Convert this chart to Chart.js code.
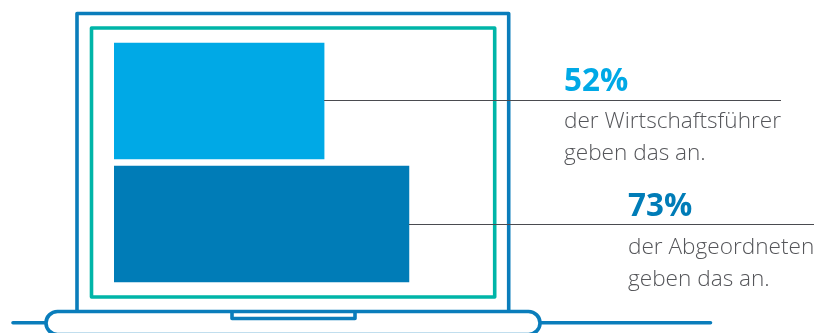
<!DOCTYPE html>
<html lang="de">
<head>
<meta charset="utf-8">
<title>Wirtschaftsführer und Abgeordnete</title>
<script src="https://cdn.jsdelivr.net/npm/chart.js@4"></script>
<style>
  html, body { margin: 0; padding: 0; background: #fff; overflow: hidden; }
  canvas { display: block; }
</style>
</head>
<body>
<canvas id="laptopChart" width="823" height="333"></canvas>
<script>
const categories = ["Wirtschaftsführer", "Abgeordnete"];
const percentValues = [52, 73];
const barColors = ["#00a9e6", "#007cb7"];
const captionLines = [
  ["der Wirtschaftsführer", "geben das an."],
  ["der Abgeordneten", "geben das an."]
];

// caption block layout per bar: left edge, rule end, baseline offsets from the bar centre
const captionX = [564, 628];
const ruleEndX = [781, 814];
const percentOffset = [-10, -8.5];
const captionOffset = [26.5, 30];

const FRAME_BLUE = "#0a7dbb";
const TEAL = "#00b5a8";
const TEXT_GREY = "#55565a";

// the laptop outline behind the bars
const laptopFrame = {
  id: "laptopFrame",
  beforeDatasetsDraw(chart) {
    const ctx = chart.ctx;
    ctx.save();
    ctx.lineJoin = "round";

    // lid
    ctx.strokeStyle = FRAME_BLUE;
    ctx.lineWidth = 3.6;
    ctx.beginPath();
    ctx.moveTo(77, 311.5);
    ctx.lineTo(77, 13.5);
    ctx.lineTo(508.7, 13.5);
    ctx.lineTo(508.7, 311.5);
    ctx.stroke();

    // screen
    ctx.strokeStyle = TEAL;
    ctx.strokeRect(91.5, 28, 403.2, 269);

    // base with notch
    ctx.strokeStyle = FRAME_BLUE;
    ctx.beginPath();
    ctx.roundRect(46, 311.5, 494, 23, 11.5);
    ctx.stroke();
    ctx.beginPath();
    ctx.moveTo(232, 311.5);
    ctx.lineTo(232, 318.5);
    ctx.lineTo(355, 318.5);
    ctx.lineTo(355, 311.5);
    ctx.stroke();

    // table line either side of the base
    ctx.lineCap = "round";
    ctx.beginPath();
    ctx.moveTo(13, 322.7);
    ctx.lineTo(45, 322.7);
    ctx.moveTo(541, 322.7);
    ctx.lineTo(710.5, 322.7);
    ctx.stroke();

    ctx.restore();
  }
};

// rule from each bar end, with the percentage above and the caption below
const barCaptions = {
  id: "barCaptions",
  afterDatasetsDraw(chart) {
    const ctx = chart.ctx;
    const bars = chart.getDatasetMeta(0).data;
    ctx.save();
    bars.forEach((bar, i) => {
      const ruleY = Math.floor(bar.y) + (i === 0 ? -0.5 : 0.5);
      ctx.strokeStyle = "#4a4b50";
      ctx.lineWidth = 1;
      ctx.beginPath();
      ctx.moveTo(bar.x, ruleY);
      ctx.lineTo(ruleEndX[i], ruleY);
      ctx.stroke();

      ctx.textAlign = "left";
      ctx.textBaseline = "alphabetic";
      ctx.fillStyle = barColors[i];
      ctx.font = "700 31.4px 'Open Sans'";
      ctx.fillText(percentValues[i] + "%", captionX[i], bar.y + percentOffset[i]);

      ctx.fillStyle = TEXT_GREY;
      ctx.font = "300 22.6px 'Open Sans'";
      captionLines[i].forEach((line, n) => {
        ctx.fillText(line, captionX[i], bar.y + captionOffset[i] + n * 32);
      });
    });
    ctx.restore();
  }
};

new Chart(document.getElementById("laptopChart"), {
  type: "bar",
  data: {
    labels: categories,
    datasets: [{
      data: percentValues,
      backgroundColor: barColors,
      borderWidth: 0,
      barThickness: 116
    }]
  },
  options: {
    indexAxis: "y",
    responsive: false,
    animation: false,
    layout: { padding: { left: 114, right: 305, top: 39.5, bottom: 47.5 } },
    scales: {
      x: { display: false, min: 0, max: 100 },
      y: { display: false }
    },
    plugins: {
      legend: { display: false },
      tooltip: { enabled: false }
    }
  },
  plugins: [laptopFrame, barCaptions]
});
</script>
</body>
</html>
